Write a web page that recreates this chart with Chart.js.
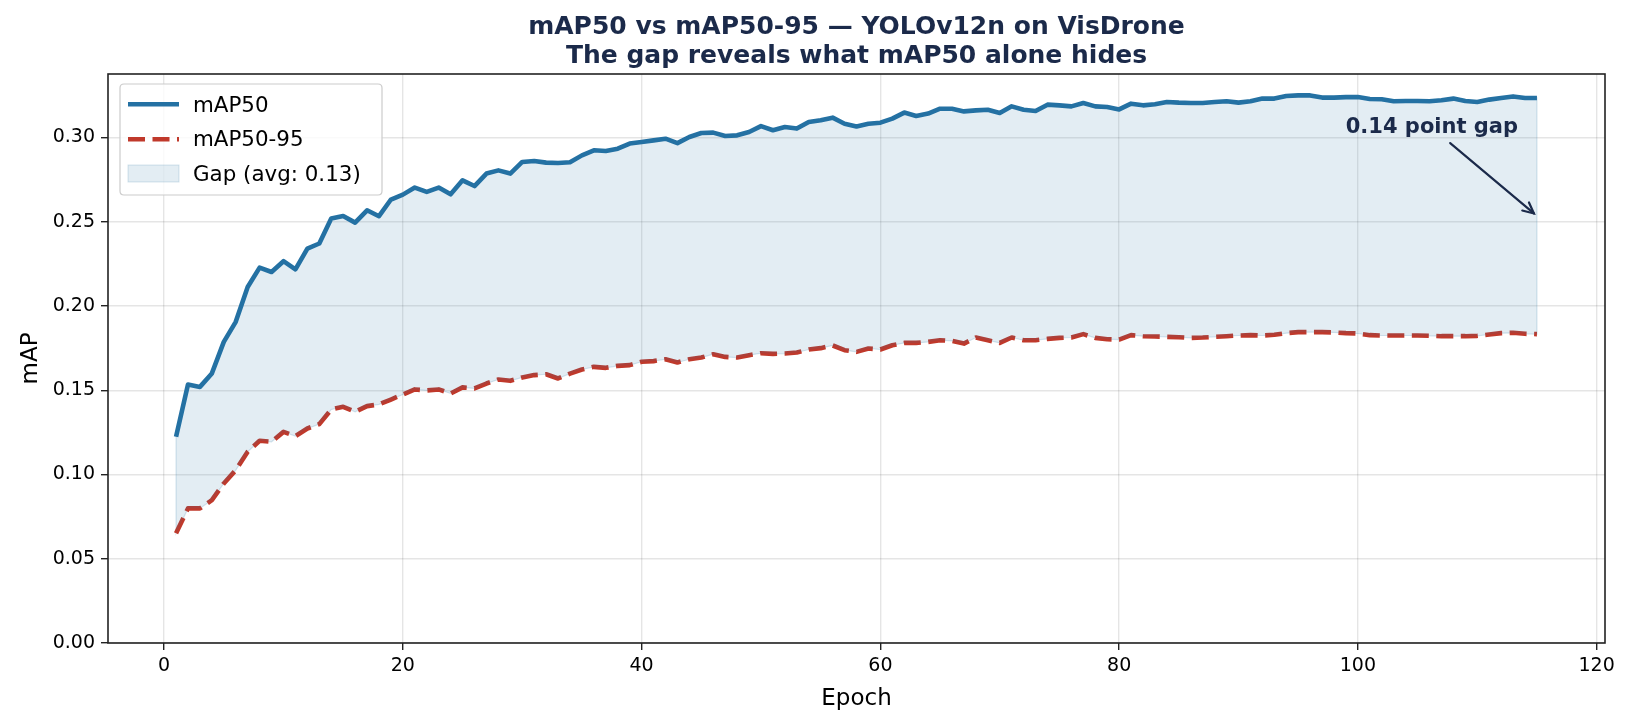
<!DOCTYPE html>
<html><head><meta charset="utf-8">
<script src="https://cdn.jsdelivr.net/npm/chart.js@4.4.0/dist/chart.umd.min.js"></script>
<style>html,body{margin:0;padding:0;background:#fff;}canvas{display:block;}</style>
</head><body>
<canvas id="c" width="1631" height="725"></canvas>
<script>
// ---------- data ----------
const epochs = [1,2,3,4,5,6,7,8,9,10,11,12,13,14,15,16,17,18,19,20,21,22,23,24,25,26,27,28,29,30,
31,32,33,34,35,36,37,38,39,40,41,42,43,44,45,46,47,48,49,50,51,52,53,54,55,56,57,58,59,60,
61,62,63,64,65,66,67,68,69,70,71,72,73,74,75,76,77,78,79,80,81,82,83,84,85,86,87,88,89,90,
91,92,93,94,95,96,97,98,99,100,101,102,103,104,105,106,107,108,109,110,111,112,113,114,115];

const map50 = [0.1224,0.1534,0.1520,0.1600,0.1787,0.1906,0.2113,0.2228,0.2202,0.2266,
0.2218,0.2341,0.2371,0.2519,0.2534,0.2495,0.2568,0.2533,0.2632,0.2661,
0.2703,0.2677,0.2703,0.2663,0.2746,0.2712,0.2786,0.2805,0.2786,0.2855,
0.2861,0.2851,0.2849,0.2853,0.2894,0.2924,0.2920,0.2934,0.2964,0.2974,
0.2983,0.2993,0.2967,0.3003,0.3027,0.3029,0.3009,0.3013,0.3033,0.3068,
0.3043,0.3062,0.3053,0.3092,0.3102,0.3118,0.3082,0.3066,0.3082,0.3088,
0.3112,0.3148,0.3128,0.3142,0.3171,0.3171,0.3155,0.3161,0.3165,0.3146,
0.3185,0.3165,0.3157,0.3195,0.3191,0.3185,0.3205,0.3185,0.3181,0.3167,
0.3201,0.3191,0.3197,0.3211,0.3207,0.3205,0.3205,0.3211,0.3215,0.3207,
0.3215,0.3231,0.3231,0.3246,0.3250,0.3250,0.3237,0.3237,0.3240,0.3240,
0.3229,0.3227,0.3215,0.3217,0.3217,0.3215,0.3221,0.3231,0.3217,0.3211,
0.3225,0.3235,0.3244,0.3235,0.3235];

const map5095 = [0.0651,0.0799,0.0799,0.0848,0.0947,0.1026,0.1135,0.1200,0.1194,0.1253,
0.1228,0.1273,0.1299,0.1386,0.1402,0.1372,0.1406,0.1416,0.1445,0.1475,
0.1505,0.1499,0.1505,0.1481,0.1517,0.1511,0.1540,0.1564,0.1556,0.1576,
0.1590,0.1595,0.1570,0.1599,0.1623,0.1639,0.1633,0.1645,0.1649,0.1669,
0.1673,0.1684,0.1665,0.1684,0.1694,0.1714,0.1698,0.1694,0.1708,0.1720,
0.1716,0.1718,0.1724,0.1742,0.1750,0.1766,0.1738,0.1728,0.1748,0.1742,
0.1767,0.1781,0.1781,0.1787,0.1797,0.1793,0.1777,0.1813,0.1797,0.1781,
0.1813,0.1797,0.1797,0.1805,0.1811,0.1813,0.1833,0.1811,0.1803,0.1801,
0.1827,0.1821,0.1819,0.1817,0.1815,0.1811,0.1813,0.1817,0.1821,0.1825,
0.1827,0.1825,0.1829,0.1839,0.1845,0.1845,0.1845,0.1843,0.1839,0.1837,
0.1827,0.1825,0.1825,0.1825,0.1825,0.1823,0.1821,0.1821,0.1821,0.1823,
0.1831,0.1839,0.1841,0.1835,0.1833];

const xTicks = [0,20,40,60,80,100,120];
const yTicks = [0.00,0.05,0.10,0.15,0.20,0.25,0.30];
const seriesLabels = ['mAP50','mAP50-95'];
const gapLabel = 'Gap (avg: 0.13)';
const annotationText = '0.14 point gap';
const titleLines = ['mAP50 vs mAP50-95 \u2014 YOLOv12n on VisDrone','The gap reveals what mAP50 alone hides'];

// ---------- styles ----------
const BLUE = '#2471a3';
const RED = '#c0392b';
const FILL = 'rgba(36,113,163,0.13)';
const NAVY = '#1b2a4a';
const FONT = 'DejaVu Sans';
const LW = 4.6;
const DASH = [17, 7.5];

const toPts = ys => epochs.map((e,i)=>({x:e, y:ys[i]}));

const decor = {
  id:'decor',
  beforeDatasetsDraw(chart){
    const {ctx, scales:{x,y}} = chart;
    ctx.save();
    ctx.beginPath();
    epochs.forEach((e,i)=>{const px=x.getPixelForValue(e), py=y.getPixelForValue(map50[i]); i?ctx.lineTo(px,py):ctx.moveTo(px,py);});
    for(let i=epochs.length-1;i>=0;i--) ctx.lineTo(x.getPixelForValue(epochs[i]), y.getPixelForValue(map5095[i]));
    ctx.closePath();
    ctx.strokeStyle='rgba(36,113,163,0.18)';
    ctx.lineWidth=1.2;
    ctx.stroke();
    ctx.restore();
  },
  afterDatasetsDraw(chart){
    const {ctx, chartArea:a, scales:{x,y}} = chart;
    ctx.save();
    ctx.strokeStyle='#222'; ctx.lineWidth=1.6;
    ctx.strokeRect(a.left, a.top, a.right-a.left, a.bottom-a.top);

    const n = epochs.length-1;
    const tx = x.getPixelForValue(106.2), ty = y.getPixelForValue(0.3062);
    ctx.fillStyle=NAVY;
    ctx.font='bold 21px "'+FONT+'"';
    ctx.textAlign='center'; ctx.textBaseline='middle';
    ctx.fillText(annotationText, tx, ty);
    const sx = tx+18.3, sy = ty+16;
    let ex = x.getPixelForValue(epochs[n]), ey = y.getPixelForValue((map50[n]+map5095[n])/2);
    const dx=ex-sx, dy=ey-sy, L=Math.hypot(dx,dy), ux=dx/L, uy=dy/L;
    ex -= ux*4; ey -= uy*4;
    ctx.strokeStyle=NAVY; ctx.lineWidth=2.2; ctx.lineCap='round';
    ctx.beginPath(); ctx.moveTo(sx,sy); ctx.lineTo(ex,ey); ctx.stroke();
    const hl=12, ang=Math.atan2(uy,ux), spread=0.45;
    ctx.beginPath();
    ctx.moveTo(ex-hl*Math.cos(ang-spread), ey-hl*Math.sin(ang-spread));
    ctx.lineTo(ex,ey);
    ctx.lineTo(ex-hl*Math.cos(ang+spread), ey-hl*Math.sin(ang+spread));
    ctx.stroke();

    const lx=a.left+12, ly=a.top+10, lw=262, lh=111, r=4;
    ctx.beginPath();
    ctx.moveTo(lx+r,ly); ctx.lineTo(lx+lw-r,ly); ctx.quadraticCurveTo(lx+lw,ly,lx+lw,ly+r);
    ctx.lineTo(lx+lw,ly+lh-r); ctx.quadraticCurveTo(lx+lw,ly+lh,lx+lw-r,ly+lh);
    ctx.lineTo(lx+r,ly+lh); ctx.quadraticCurveTo(lx,ly+lh,lx,ly+lh-r);
    ctx.lineTo(lx,ly+r); ctx.quadraticCurveTo(lx,ly,lx+r,ly); ctx.closePath();
    ctx.fillStyle='rgba(255,255,255,0.8)'; ctx.fill();
    ctx.strokeStyle='#cccccc'; ctx.lineWidth=1.2; ctx.lineCap='butt'; ctx.stroke();

    const x0=lx+8, x1=lx+59, textX=lx+73;
    const rows=[ly+20.3, ly+55.3, ly+89.5];
    ctx.lineWidth=LW;
    ctx.strokeStyle=BLUE; ctx.setLineDash([]);
    ctx.beginPath(); ctx.moveTo(x0,rows[0]); ctx.lineTo(x1,rows[0]); ctx.stroke();
    ctx.strokeStyle=RED; ctx.setLineDash(DASH);
    ctx.beginPath(); ctx.moveTo(x0,rows[1]); ctx.lineTo(x1,rows[1]); ctx.stroke();
    ctx.setLineDash([]);
    ctx.fillStyle=FILL; ctx.fillRect(x0,rows[2]-8.5,x1-x0,17);
    ctx.strokeStyle='rgba(36,113,163,0.18)'; ctx.lineWidth=1; ctx.strokeRect(x0,rows[2]-8.5,x1-x0,17);

    ctx.fillStyle='#000'; ctx.font='21.4px "'+FONT+'"';
    ctx.textAlign='left'; ctx.textBaseline='middle';
    ctx.fillText(seriesLabels[0], textX, rows[0]+2);
    ctx.fillText(seriesLabels[1], textX, rows[1]+1.5);
    ctx.fillText(gapLabel, textX, rows[2]+2);
    ctx.restore();
  }
};

new Chart(document.getElementById('c'), {
  type:'line',
  data:{datasets:[
    {label:seriesLabels[0], data:toPts(map50), borderColor:BLUE, borderWidth:LW, pointRadius:0, tension:0,
     fill:{target:'+1'}, backgroundColor:FILL, borderJoinStyle:'round'},
    {label:seriesLabels[1], data:toPts(map5095), borderColor:RED, borderWidth:LW, borderDash:DASH, pointRadius:0, tension:0,
     fill:false, borderJoinStyle:'round'}
  ]},
  options:{
    responsive:false, animation:false, devicePixelRatio:1,
    layout:{padding:{left:0,right:26,top:0,bottom:0}},
    plugins:{
      legend:{display:false}, tooltip:{enabled:false},
      title:{display:true, text:titleLines, fullSize:false, color:NAVY,
        font:{family:FONT, size:25, weight:'bold', lineHeight:1.16}, padding:{top:12.5,bottom:3.5}}
    },
    scales:{
      x:{type:'linear', min:-4.7, max:120.7,
        afterBuildTicks:s=>{s.ticks=xTicks.map(v=>({value:v}));},
        afterFit:s=>{s.height=82;},
        grid:{color:'rgba(0,0,0,0.1)', lineWidth:1.4, tickColor:'#222', tickLength:7, tickWidth:1.4},
        border:{display:false},
        ticks:{color:'#000', font:{family:FONT,size:19}, padding:5, maxRotation:0, autoSkip:false, callback:v=>String(v)},
        title:{display:true, text:'Epoch', color:'#000', font:{family:FONT,size:23}, padding:{top:0,bottom:12}}
      },
      y:{type:'linear', min:0, max:0.3377,
        afterBuildTicks:s=>{s.ticks=yTicks.map(v=>({value:v}));},
        afterFit:s=>{s.width=108;},
        grid:{color:'rgba(0,0,0,0.1)', lineWidth:1.4, tickColor:'#222', tickLength:7, tickWidth:1.4},
        border:{display:false},
        ticks:{color:'#000', font:{family:FONT,size:19}, padding:6, autoSkip:false, callback:v=>Number(v).toFixed(2)},
        title:{display:true, text:'mAP', color:'#000', font:{family:FONT,size:23}, padding:{top:17,bottom:0}}
      }
    }
  },
  plugins:[decor]
});
</script>
</body></html>
